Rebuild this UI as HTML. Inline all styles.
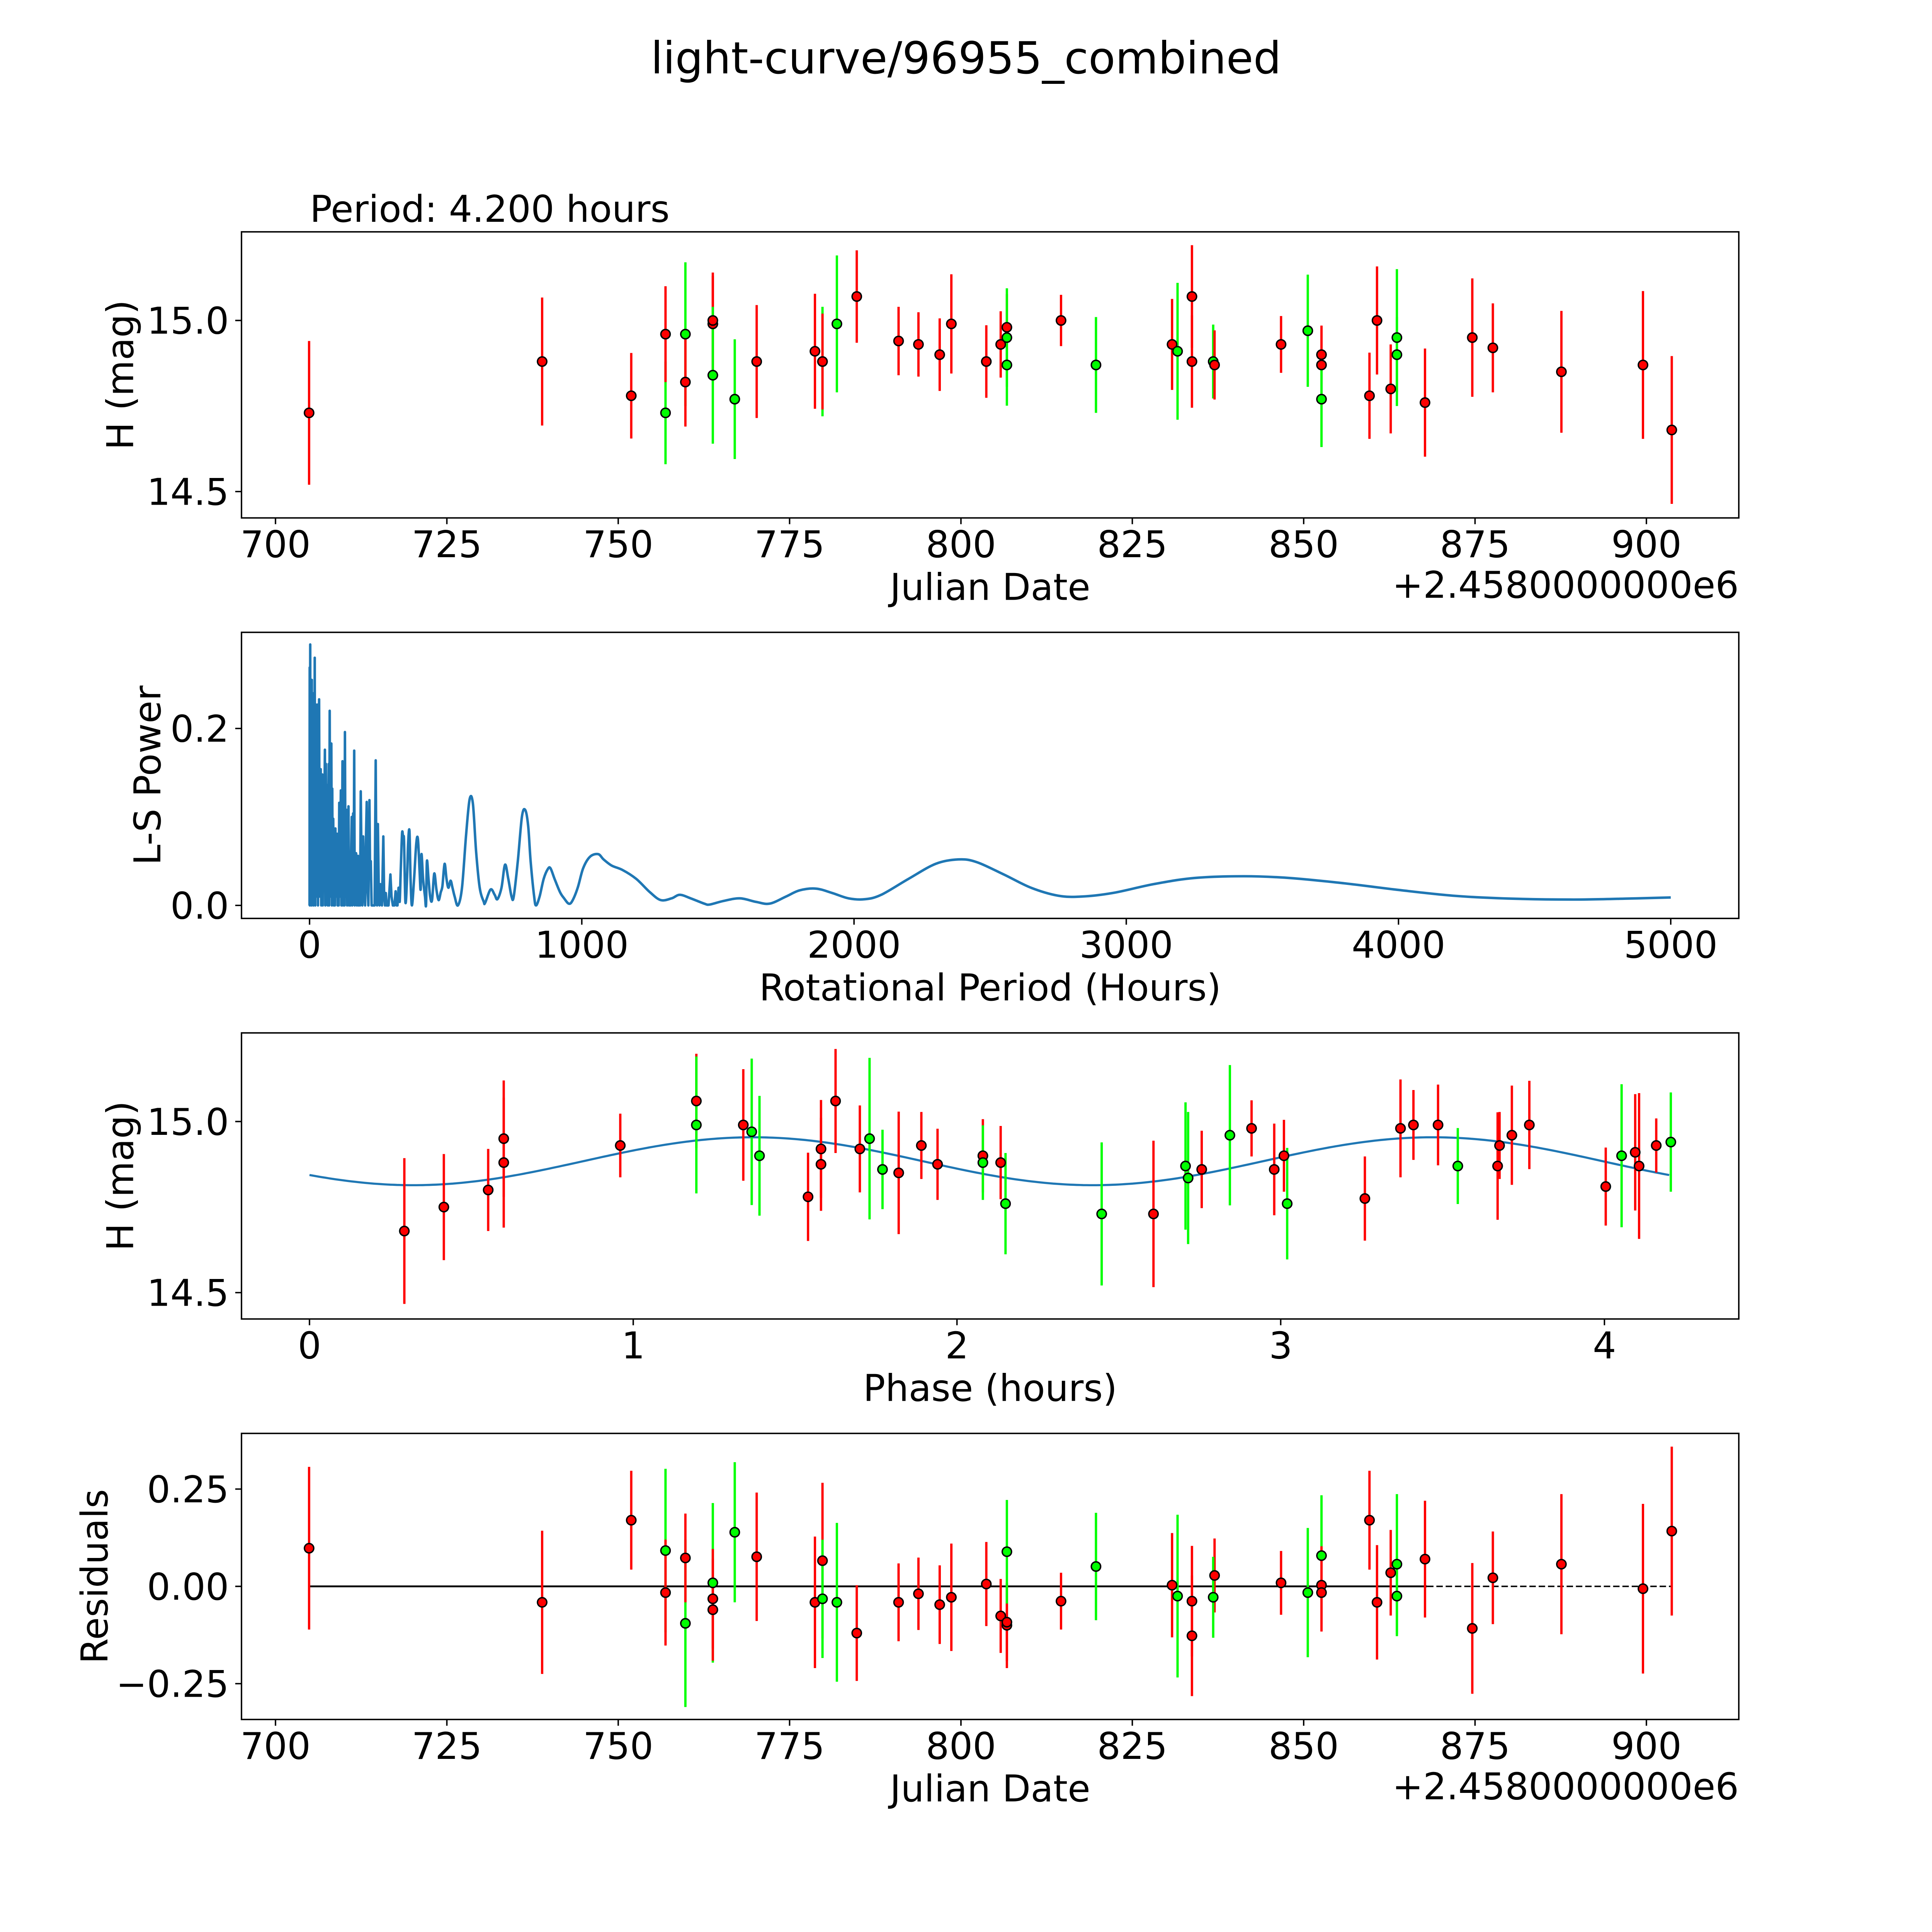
<!DOCTYPE html>
<html><head><meta charset="utf-8"><title>light-curve/96955_combined</title>
<style>html,body{margin:0;padding:0;background:#fff;overflow:hidden;width:100%;height:100%}svg{display:block;width:100vw;height:100vh}text{font-family:"DejaVu Sans","Liberation Sans",sans-serif;fill:#000}</style>
</head><body>
<svg id="fig" xmlns="http://www.w3.org/2000/svg" viewBox="0 0 5400 5400" preserveAspectRatio="xMidYMid meet">
<rect x="0" y="0" width="5400" height="5400" fill="#fff"/>
<text x="2700" y="205" font-size="123" text-anchor="middle">light-curve/96955_combined</text>
<text x="866" y="620" font-size="103">Period: 4.200 hours</text>
</svg>
<script>
// ---------- Panel 1: light curve ----------
const lcJD = [704.9,738.9,751.9,756.9,756.9,759.8,759.8,763.8,763.8,763.8,767.0,770.2,778.7,779.8,779.8,781.9,784.8,790.9,793.8,796.9,798.6,803.7,805.8,806.7,806.7,806.7,814.6,819.7,830.8,831.6,833.7,833.7,836.8,837.0,846.7,850.6,852.6,852.6,852.6,859.6,860.7,862.7,863.6,863.6,867.7,874.6,877.6,887.6,899.5,903.7];
const lcMag = [14.73,14.88,14.78,14.73,14.96,14.96,14.82,14.99,15.0,14.84,14.77,14.88,14.91,14.88,14.88,14.99,15.07,14.94,14.93,14.90,14.99,14.88,14.93,14.98,14.95,14.87,15.0,14.87,14.93,14.91,15.07,14.88,14.88,14.87,14.93,14.97,14.90,14.87,14.77,14.78,15.0,14.80,14.95,14.90,14.76,14.95,14.92,14.85,14.87,14.68];
const lcErr = [0.21,0.187,0.125,0.15,0.14,0.21,0.13,0.14,0.14,0.2,0.175,0.165,0.168,0.16,0.14,0.2,0.135,0.1,0.094,0.106,0.145,0.106,0.097,0.097,0.144,0.119,0.075,0.14,0.133,0.2,0.15,0.135,0.108,0.101,0.083,0.164,0.085,0.112,0.14,0.126,0.158,0.13,0.2,0.11,0.158,0.173,0.13,0.178,0.216,0.216];
const lcSrc = ["r","r","r","g","r","g","r","r","r","g","g","r","r","g","r","g","r","r","r","r","r","r","r","r","g","g","r","g","r","g","r","r","g","r","r","g","r","r","g","r","r","r","g","g","r","r","r","r","r","r"];
const jdTicks = [700,725,750,775,800,825,850,875,900];
const magTicks = [14.5,15.0];
const magTickLabels = ["14.5","15.0"];

// ---------- Panel 2: periodogram ----------
const lsPeriod = [0,0.5,1,2.4,3,4,5.5,7,8.3,9,10,12,13,14,16,17.5,19,20,21,22.5,24,26,27.5,29.4,31,33,35,37,39,41,43,45,47,48.5,50,52,54,56.4,58,60,62,63.5,65,67,68.5,70.5,72,74,76,78,80,82,83.4,85,87,89,91.6,93,95,97,99,101,103,105,107,109,111,113,115,117,119,121,123,125,127,128.5,130,132,134,136,138,140,143,145,148,150,152,155,157,160,162,164,166,168,171,174,176,178,180,183,185.5,188,192,194,197,200,204,207,210,213,216,220,222,225,228,234,239,243,246,248,251,254,257,260,263,266,271,274,277,280,283,290,297,301,306,312,316,320,323,327,331,335,340,344,347,352,358,362,367,371,376,384,392,398,404,408,411,417,424,428,431,437,443,450,458,466,474,482,488,496,503,510,518,525,533,545,560,575,588,600,612,625,640,645,665,680,690,705,718,730,742,750,765,780,792,803,812,825,832,845,860,875,885,900,920,935,952,965,985,1005,1030,1060,1080,1110,1150,1200,1250,1290,1330,1360,1400,1450,1470,1520,1580,1640,1690,1750,1800,1860,1920,1980,2040,2100,2200,2300,2384,2450,2550,2650,2750,2836,2950,3100,3250,3431,3600,3800,4000,4200,4400,4643,4850,5000];
const lsPower = [0,0.269,0,0.295,0.05,0.02,0.21,0,0.255,0.08,0.01,0.2,0.06,0,0.24,0.02,0.28,0.05,0,0.18,0.227,0.01,0.15,0.227,0,0.12,0.233,0.01,0.1,0.154,0,0.09,0.148,0,0.107,0.02,0.09,0.176,0,0.16,0.01,0.1,0.136,0,0.09,0.16,0,0.22,0.01,0.09,0.183,0,0.132,0.01,0.098,0,0.079,0,0.087,0.01,0.06,0.081,0,0.04,0,0.116,0.01,0.07,0.13,0,0.05,0.163,0,0.04,0.1,0,0.196,0.01,0.06,0.108,0,0.05,0.112,0,0.056,0,0.04,0.1,0,0.104,0.01,0.175,0,0.03,0.059,0,0.03,0.056,0,0.048,0,0.129,0.02,0,0.078,0.02,0,0.07,0.117,0.02,0,0.119,0.05,0.05,0,0,0,0.164,0.01,0,0.092,0.02,0,0.024,0.01,0,0.078,0.01,0,0.014,0,0,0.035,0.01,0,0,0.016,0,0,0.02,0.004,0.04,0.082,0.075,0.073,0.004,0.03,0.07,0.084,0.03,0,0.03,0.07,0.075,0.04,0.018,0.058,0.03,0.01,0.001,0.05,0.03,0.01,0.006,0.036,0.018,0.006,0.015,0.022,0.047,0.03,0.02,0.028,0.02,0.01,0,0.02,0.08,0.12,0.115,0.06,0.02,0.004,0.003,0.018,0.012,0.007,0.02,0.046,0.03,0.01,0.01,0.05,0.1,0.108,0.09,0.05,0.01,0,0.01,0.03,0.041,0.042,0.03,0.015,0.008,0.002,0.005,0.02,0.042,0.055,0.058,0.052,0.045,0.04,0.03,0.015,0.006,0.008,0.012,0.008,0.002,0.001,0.005,0.008,0.004,0.002,0.01,0.017,0.019,0.014,0.008,0.007,0.012,0.03,0.047,0.052,0.049,0.035,0.02,0.011,0.010,0.014,0.024,0.031,0.033,0.031,0.025,0.0175,0.011,0.0078,0.0066,0.0078,0.009];
const lsXTicks = [0,1000,2000,3000,4000,5000];
const lsYTicks = [0.0,0.2];
const lsYTickLabels = ["0.0","0.2"];
const lsSmoothFrom = [331];

// ---------- Panel 3: phased ----------
const phPhase = [0.293,0.415,0.552,0.60,0.60,0.96,1.195,1.195,1.34,1.366,1.39,1.54,1.58,1.58,1.625,1.70,1.73,1.77,1.82,1.89,1.94,2.08,2.08,2.135,2.15,2.447,2.607,2.706,2.714,2.756,2.843,2.91,2.98,3.01,3.02,3.26,3.37,3.41,3.486,3.547,3.67,3.676,3.714,3.768,4.004,4.053,4.095,4.107,4.16,4.205];
const phMag = [14.68,14.75,14.80,14.88,14.95,14.93,15.06,14.99,14.99,14.97,14.90,14.78,14.92,14.875,15.06,14.92,14.95,14.86,14.85,14.93,14.875,14.90,14.88,14.88,14.76,14.73,14.73,14.87,14.835,14.86,14.96,14.98,14.86,14.90,14.76,14.775,14.98,14.99,14.99,14.87,14.87,14.93,14.96,14.99,14.81,14.90,14.91,14.87,14.93,14.94];
const phErr = [0.213,0.155,0.12,0.19,0.17,0.093,0.138,0.2,0.163,0.214,0.175,0.129,0.143,0.136,0.152,0.127,0.236,0.116,0.179,0.098,0.104,0.107,0.109,0.107,0.148,0.209,0.214,0.186,0.193,0.113,0.205,0.082,0.134,0.105,0.163,0.123,0.143,0.102,0.118,0.111,0.157,0.098,0.145,0.129,0.114,0.209,0.17,0.213,0.079,0.145];
const phSrc = ["r","r","r","r","r","r","r","g","r","g","g","r","r","r","r","r","g","g","r","r","r","r","g","r","g","g","r","g","g","r","g","r","r","r","g","r","r","r","r","g","r","r","r","r","r","g","r","r","r","g"];
const phXTicks = [0,1,2,3,4];
const fitMean = [14.884];
const fitAmp = [0.07];
const fitPeak = [1.37];
const fitPeriod = [2.1];

// ---------- Panel 4: residuals ----------
const resJD = [704.9,738.9,751.9,756.9,756.9,759.8,759.8,763.8,763.8,763.8,767.0,770.2,778.7,779.8,779.8,781.9,784.8,790.9,793.8,796.9,798.6,803.7,805.8,806.7,806.7,806.7,814.6,819.7,830.8,831.6,833.7,833.7,837.0,836.8,846.7,850.6,852.6,852.6,852.6,859.6,860.7,862.7,863.6,863.6,867.7,874.6,877.6,887.6,899.5,903.7];
const resVal = [0.098,-0.041,0.17,0.092,-0.016,-0.095,0.073,0.009,-0.032,-0.06,0.139,0.076,-0.041,0.066,-0.032,-0.041,-0.12,-0.041,-0.019,-0.047,-0.028,0.006,-0.076,-0.1,-0.092,0.089,-0.038,0.051,0.003,-0.025,-0.038,-0.127,0.028,-0.028,0.009,-0.016,0.079,0.003,-0.016,0.17,-0.041,0.035,0.057,-0.025,0.07,-0.108,0.022,0.057,-0.006,0.142];
const resErr = [0.209,0.184,0.127,0.21,0.136,0.215,0.114,0.205,0.128,0.131,0.18,0.165,0.169,0.2,0.152,0.204,0.123,0.1,0.093,0.101,0.138,0.108,0.095,0.11,0.1,0.133,0.073,0.138,0.134,0.209,0.142,0.155,0.095,0.104,0.082,0.166,0.155,0.1,0.1,0.127,0.147,0.11,0.18,0.103,0.15,0.168,0.119,0.18,0.218,0.217];
const resSrc = ["r","r","r","g","r","g","r","g","r","r","g","r","r","r","g","g","r","r","r","r","r","r","r","r","r","g","r","g","r","g","r","r","r","g","r","g","g","r","r","r","r","r","g","g","r","r","r","r","r","r"];
const resYTicks = [-0.25,0,0.25];
const resYTickLabels = ["\u22120.25","0.00","0.25"];
const resSolidEnd = [868];

const NS = "http://www.w3.org/2000/svg";
const fig = document.getElementById("fig");
const L = 675, R = 4860, PH = 799.6;
const tops = [648, 1767.4, 2887, 4006.4];
const colors = {r:"#ff0000", g:"#00ff00"};
const FS = 103;

function mk(tag, attrs, parent){
  const e = document.createElementNS(NS, tag);
  for (const k in attrs) e.setAttribute(k, attrs[k]);
  (parent||fig).appendChild(e);
  return e;
}
function scale(d0,d1,r0,r1){ return v => r0 + (v-d0)/(d1-d0)*(r1-r0); }

function axes(idx, name, xlim, ylim){
  const top = tops[idx], bot = top+PH;
  const g = mk("g", {});
  
  
  return {g, top, bot, x: scale(xlim[0],xlim[1],L,R), y: scale(ylim[0],ylim[1],bot,top)};
}
function frame(ax, name){
  const r = mk("rect", {x:L, y:ax.top, width:R-L, height:PH, fill:"none", stroke:"#000", "stroke-width":4}, ax.g);
  
  
}
function xTicks(ax, vals, labels, name){
  vals.forEach((v,i)=>{
    const X = ax.x(v);
    const t = mk("line", {x1:X, x2:X, y1:ax.bot, y2:ax.bot+17.5, stroke:"#000","stroke-width":4}, ax.g);
    
    
    const tx = mk("text", {x:X, y:ax.bot+110, "font-size":FS, "text-anchor":"middle"}, ax.g);
    tx.textContent = labels[i];
    
    
  });
}
function yTicks(ax, vals, labels, name){
  vals.forEach((v,i)=>{
    const Y = ax.y(v);
    const t = mk("line", {x1:L-17.5, x2:L, y1:Y, y2:Y, stroke:"#000","stroke-width":4}, ax.g);
    
    
    const tx = mk("text", {x:L-35, y:Y+37, "font-size":FS, "text-anchor":"end"}, ax.g);
    tx.textContent = labels[i];
    
    
  });
}
function xLabel(ax, text, name){
  const t = mk("text", {x:(L+R)/2, y:ax.bot+229, "font-size":FS, "text-anchor":"middle"}, ax.g);
  t.textContent = text;
  
  
}
function yLabel(ax, text, bx, name){
  const cy = (ax.top+ax.bot)/2;
  const t = mk("text", {x:bx, y:cy, "font-size":FS, "text-anchor":"middle", transform:`rotate(-90 ${bx} ${cy})`}, ax.g);
  t.textContent = text;
  
  
}
function offsetText(ax){
  const t = mk("text", {x:R, y:ax.bot+223, "font-size":FS, "text-anchor":"end"}, ax.g);
  t.textContent = "+2.4580000000e6";
  
  
}
function errPoints(ax, xs, ys, es, src, name){
  const gl = mk("g", {}, ax.g);
  xs.forEach((xv,i)=>{
    const X = ax.x(xv);
    const ln = mk("line", {x1:X, x2:X, y1:ax.y(ys[i]-es[i]), y2:ax.y(ys[i]+es[i]), stroke:colors[src[i]], "stroke-width":6.5}, gl);
    
    
  });
  xs.forEach((xv,i)=>{
    const c = mk("circle", {cx:ax.x(xv), cy:ax.y(ys[i]), r:13, fill:colors[src[i]], stroke:"#000", "stroke-width":4}, gl);
    
    
  });
}

// Panel 1
const a1 = axes(0, 'light-curve-panel', [695.04, 913.48], [14.423, 15.259]);
errPoints(a1, lcJD, lcMag, lcErr, lcSrc, 'light-curve');
frame(a1, 'light-curve-frame');
xTicks(a1, jdTicks, jdTicks.map(String), 'x-axis');
yTicks(a1, magTicks, magTickLabels, 'y-axis');
xLabel(a1, 'Julian Date', 'x-axis-title');
yLabel(a1, 'H (mag)', 372, 'y-axis-title');
offsetText(a1);

// Panel 2
const a2 = axes(1, 'periodogram-panel', [-250, 5250], [-0.0147, 0.3087]);
const P = lsPeriod.map((p,i)=>[a2.x(p), a2.y(lsPower[i])]);
let d = 'M'+P[0][0].toFixed(1)+','+P[0][1].toFixed(1);
for (let i=1;i<P.length;i++){
  if (lsPeriod[i-1] < lsSmoothFrom[0]) {
    d += ' L'+P[i][0].toFixed(1)+','+P[i][1].toFixed(1);
  } else {
    const p0 = P[Math.max(i-2,0)], p1 = P[i-1], p2 = P[i], p3 = P[Math.min(i+1,P.length-1)];
    const c1x = p1[0]+(p2[0]-p0[0])/6, c1y = p1[1]+(p2[1]-p0[1])/6;
    const c2x = p2[0]-(p3[0]-p1[0])/6, c2y = p2[1]-(p3[1]-p1[1])/6;
    d += ' C'+c1x.toFixed(1)+','+c1y.toFixed(1)+' '+c2x.toFixed(1)+','+c2y.toFixed(1)+' '+p2[0].toFixed(1)+','+p2[1].toFixed(1);
  }
}
const pl = mk("path", {d:d, fill:"none", stroke:"#1f77b4", "stroke-width":7, "stroke-linejoin":"round"}, a2.g);


frame(a2, 'periodogram-frame');
xTicks(a2, lsXTicks, lsXTicks.map(String), 'period-axis');
yTicks(a2, lsYTicks, lsYTickLabels, 'power-axis');
xLabel(a2, 'Rotational Period (Hours)', 'period-axis-title');
yLabel(a2, 'L-S Power', 448, 'power-axis-title');

// Panel 3
const a3 = axes(2, 'phased-panel', [-0.21, 4.415], [14.423, 15.259]);
const fp = [];
for (let k=0;k<=420;k++){
  const ph = k/100;
  const m = fitMean[0] + fitAmp[0]*Math.cos(2*Math.PI*(ph-fitPeak[0])/fitPeriod[0]);
  fp.push(a3.x(ph).toFixed(1)+','+a3.y(m).toFixed(1));
}
const fl = mk("polyline", {points:fp.join(' '), fill:"none", stroke:"#1f77b4", "stroke-width":6}, a3.g);


errPoints(a3, phPhase, phMag, phErr, phSrc, 'phased');
frame(a3, 'phased-frame');
xTicks(a3, phXTicks, phXTicks.map(String), 'phase-axis');
yTicks(a3, magTicks, magTickLabels, 'phased-y-axis');
xLabel(a3, 'Phase (hours)', 'phase-axis-title');
yLabel(a3, 'H (mag)', 372, 'phased-y-axis-title');

// Panel 4
const a4 = axes(3, 'residuals-panel', [695.04, 913.48], [-0.342, 0.393]);
const z1 = mk("line", {x1:a4.x(resJD[0]), x2:a4.x(resSolidEnd[0]), y1:a4.y(0), y2:a4.y(0), stroke:"#000", "stroke-width":5}, a4.g);


const z2 = mk("line", {x1:a4.x(resSolidEnd[0]), x2:a4.x(resJD[resJD.length-1]), y1:a4.y(0), y2:a4.y(0), stroke:"#000", "stroke-width":4, "stroke-dasharray":"18,8"}, a4.g);


errPoints(a4, resJD, resVal, resErr, resSrc, 'residual');
frame(a4, 'residuals-frame');
xTicks(a4, jdTicks, jdTicks.map(String), 'residual-x-axis');
yTicks(a4, resYTicks, resYTickLabels, 'residual-y-axis');
xLabel(a4, 'Julian Date', 'residual-x-axis-title');
yLabel(a4, 'Residuals', 300, 'residual-y-axis-title');
offsetText(a4);
</script>
</body></html>
